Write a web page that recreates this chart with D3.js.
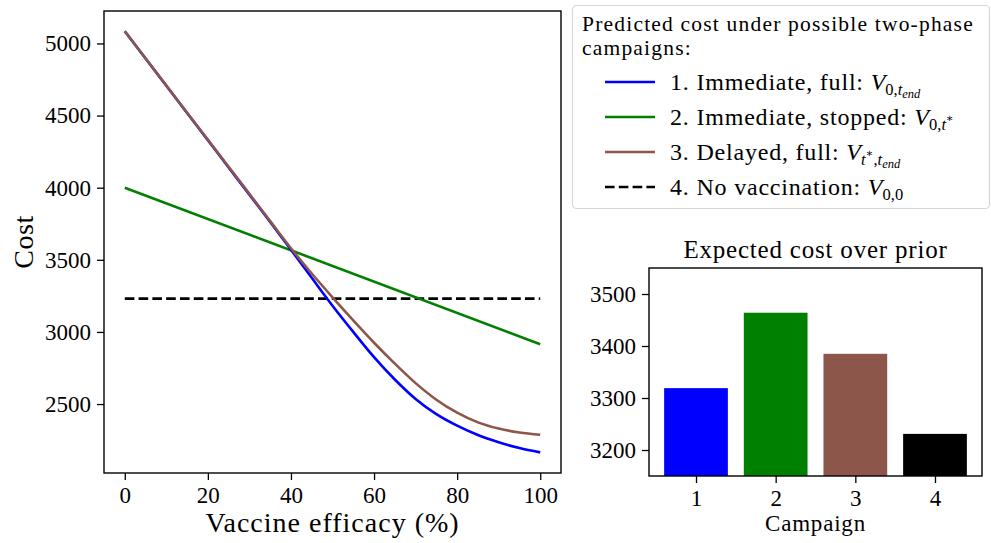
<!DOCTYPE html>
<html><head><meta charset="utf-8">
<script src="https://cdn.jsdelivr.net/npm/d3@7"></script>
<style>
body{margin:0;background:#fff;}
svg text{font-family:"Liberation Serif","DejaVu Serif","Noto Serif",serif !important;fill:#000;}
</style></head><body>
<svg id="c" width="991" height="543" xmlns="http://www.w3.org/2000/svg"></svg>
<script>
// ---------- data ----------
const efficacy = [0,5,10,15,20,25,30,35,40,45,50,55,60,65,70,75,80,85,90,95,100];
const costImmediateFull = [5085,4896,4707,4518,4330,4140,3952,3762,3570,3375,3182,3000,2825,2670,2535,2430,2350,2285,2235,2195,2165];
const costDelayedFull   = [5085,4897,4708,4520,4332,4145,3957,3768,3580,3405,3240,3080,2925,2780,2645,2530,2440,2373,2330,2303,2287];
const stoppedEfficacy = [0,100];
const costImmediateStopped = [4000,2915];
const noVaccEfficacy = [0,100];
const costNoVaccination = [3231,3231];
const xTickValues = [0,20,40,60,80,100];
const yTickValues = [2500,3000,3500,4000,4500,5000];

const campaigns = [1,2,3,4];
const expectedCost = [3319,3464,3385,3231];
const barYTickValues = [3200,3300,3400,3500];

const seriesColors = ["#0000ff","#008000","#8c564b","#000000"];
const legendTitle = ["Predicted cost under possible two-phase","campaigns:"];

// ---------- setup ----------
const svg = d3.select("#c");
const FS = 23;
const FONT = '"Liberation Serif","DejaVu Serif","Noto Serif",serif';

// ---------- left chart ----------
const L = {x0:104, x1:561, y0:11, y1:473};
const x = d3.scaleLinear().domain([-5,105]).range([L.x0,L.x1]);
const y = d3.scaleLinear().domain([2022,5225]).range([L.y1,L.y0]);

const gL = svg.append("g");
const line = d3.line().x(d=>x(d[0])).y(d=>y(d[1]));
const zip = (a,b)=>a.map((v,i)=>[v,b[i]]);

gL.append("path").datum(zip(noVaccEfficacy,costNoVaccination)).attr("d",line)
  .attr("fill","none").attr("stroke",seriesColors[3]).attr("stroke-width",2.6).attr("stroke-dasharray","9.6,4.2");
gL.append("path").datum(zip(stoppedEfficacy,costImmediateStopped)).attr("d",line)
  .attr("fill","none").attr("stroke",seriesColors[1]).attr("stroke-width",2.6);
const curveLine = d3.line().x(d=>x(d[0])).y(d=>y(d[1])).curve(d3.curveMonotoneX);
gL.append("path").datum(zip(efficacy,costImmediateFull)).attr("d",curveLine)
  .attr("fill","none").attr("stroke",seriesColors[0]).attr("stroke-width",2.6);
gL.append("path").datum(zip(efficacy,costDelayedFull)).attr("d",curveLine)
  .attr("fill","none").attr("stroke",seriesColors[2]).attr("stroke-width",2.6);

function styleAxis(g){
  g.attr("font-family",FONT);
  g.select(".domain").remove();
  g.selectAll(".tick line").attr("stroke","#000").attr("stroke-width",1.3);
  g.selectAll(".tick text").attr("font-size",FS).attr("font-family",FONT);
}
const fmt = d3.format("d");
gL.append("g").attr("transform",`translate(0,${L.y1})`)
  .call(d3.axisBottom(x).tickValues(xTickValues).tickFormat(fmt).tickSize(7).tickPadding(6).tickSizeOuter(0))
  .call(styleAxis).selectAll(".tick text").attr("dy","0.75em");
gL.append("g").attr("transform",`translate(${L.x0},0)`)
  .call(d3.axisLeft(y).tickValues(yTickValues).tickFormat(fmt).tickSize(7).tickPadding(6).tickSizeOuter(0))
  .call(styleAxis);
gL.append("rect").attr("x",L.x0).attr("y",L.y0).attr("width",L.x1-L.x0).attr("height",L.y1-L.y0)
  .attr("fill","none").attr("stroke","#000").attr("stroke-width",1.4);

gL.append("text").attr("x",(L.x0+L.x1)/2).attr("y",532).attr("text-anchor","middle")
  .attr("font-family",FONT).attr("font-size",28).attr("letter-spacing","1").text("Vaccine efficacy (%)");
gL.append("text").attr("transform",`translate(33,${(L.y0+L.y1)/2}) rotate(-90)`).attr("text-anchor","middle")
  .attr("font-family",FONT).attr("font-size",28).attr("letter-spacing","0.5").text("Cost");

// ---------- legend ----------
const gLeg = svg.append("g").attr("font-family",FONT);
gLeg.append("rect").attr("x",572.5).attr("y",5.5).attr("width",417).attr("height",203).attr("rx",4)
  .attr("fill","#fff").attr("stroke","#d6d6d6").attr("stroke-width",1.2);
legendTitle.forEach((t,i)=>{
  gLeg.append("text").attr("x",582).attr("y",30.5+i*24).attr("font-size",21.5).attr("letter-spacing","1.2").text(t);
});
// math pieces: [text, level(0 main,1 sub,2 subsub,-1 sup-of-sub), italic]
const legendLabels = [
  {lead:"1. Immediate, full: ", math:[["V",0,1],["0,",1,0],["t",1,1],["end",2,1]]},
  {lead:"2. Immediate, stopped: ", math:[["V",0,1],["0,",1,0],["t",1,1],["∗",-1,0]]},
  {lead:"3. Delayed, full: ", math:[["V",0,1],["t",1,1],["∗",-1,0],[",",1,0],["t",1,1],["end",2,1]]},
  {lead:"4. No vaccination: ", math:[["V",0,1],["0,0",1,0]]}
];
const levelSize = {0:24, 1:16.5, 2:12.5, "-1":11.5};
const levelShift = {0:0, 1:5, 2:8, "-1":-3};
legendLabels.forEach((d,i)=>{
  const cy = 82 + i*35;
  const ln = gLeg.append("line").attr("x1",605).attr("x2",655).attr("y1",cy).attr("y2",cy)
    .attr("stroke",seriesColors[i]).attr("stroke-width",2.6);
  if(i===3) ln.attr("stroke-dasharray","9.6,4.2");
  const t = gLeg.append("text").attr("x",670).attr("y",cy+8).attr("font-size",24);
  t.append("tspan").attr("letter-spacing","0.8").text(d.lead);
  let prev = 0;
  d.math.forEach(([s,lv,it])=>{
    const sh = levelShift[lv];
    t.append("tspan").attr("dy",sh-prev).attr("font-size",levelSize[lv])
      .attr("font-style",it?"italic":"normal").text(s);
    prev = sh;
  });
});

// ---------- bar chart ----------
const B = {x0:649, x1:982, y0:268, y1:476};
const bx = d3.scaleLinear().domain([0.41,4.59]).range([B.x0,B.x1]);
const by = d3.scaleLinear().domain([3150,3550]).range([B.y1,B.y0]);
const gB = svg.append("g");
gB.selectAll("rect.bar").data(campaigns).join("rect").attr("class","bar")
  .attr("x",d=>bx(d-0.4)).attr("width",d=>bx(d+0.4)-bx(d-0.4))
  .attr("y",(d,i)=>by(expectedCost[i])).attr("height",(d,i)=>B.y1-by(expectedCost[i]))
  .attr("fill",(d,i)=>seriesColors[i]);
gB.append("g").attr("transform",`translate(0,${B.y1})`)
  .call(d3.axisBottom(bx).tickValues(campaigns).tickFormat(fmt).tickSize(7).tickPadding(6).tickSizeOuter(0))
  .call(styleAxis).selectAll(".tick text").attr("dy","0.75em");
gB.append("g").attr("transform",`translate(${B.x0},0)`)
  .call(d3.axisLeft(by).tickValues(barYTickValues).tickFormat(fmt).tickSize(7).tickPadding(6).tickSizeOuter(0))
  .call(styleAxis);
gB.append("rect").attr("x",B.x0).attr("y",B.y0).attr("width",B.x1-B.x0).attr("height",B.y1-B.y0)
  .attr("fill","none").attr("stroke","#000").attr("stroke-width",1.4);
gB.append("text").attr("x",(B.x0+B.x1)/2).attr("y",258).attr("text-anchor","middle")
  .attr("font-family",FONT).attr("font-size",25).attr("letter-spacing","0.8").text("Expected cost over prior");
gB.append("text").attr("x",(B.x0+B.x1)/2).attr("y",531).attr("text-anchor","middle")
  .attr("font-family",FONT).attr("font-size",23).attr("letter-spacing","0.8").text("Campaign");
</script>
</body></html>
